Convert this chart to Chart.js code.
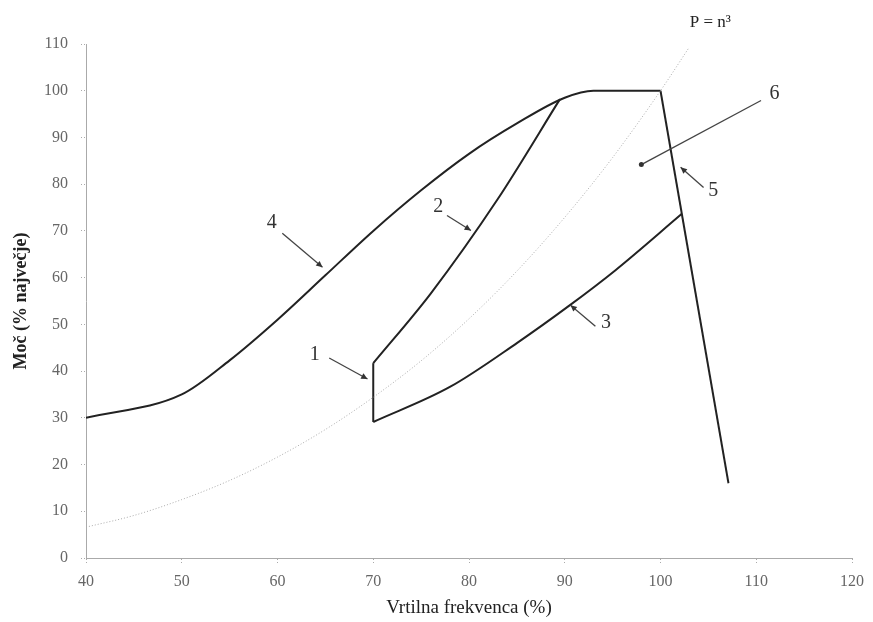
<!DOCTYPE html>
<html>
<head>
<meta charset="utf-8">
<script src="https://cdn.jsdelivr.net/npm/chart.js@4"></script>
<style>
  html, body { margin: 0; padding: 0; background: #fff; }
  #wrap { width: 873px; height: 622px; }
</style>
</head>
<body>
<div id="wrap"><canvas id="chart"></canvas></div>
<script>
// curve 4 - envelope up to the plateau
const envX = [40, 50, 55, 60, 65, 70, 75, 80, 85, 90, 93, 100];
const envY = [30, 35, 42.3, 51, 60.5, 70, 78.7, 86.5, 93, 98.5, 100, 100];
// curve 5 - drop line
const dropX = [100, 107.1];
const dropY = [100, 16];
// curve 1 - vertical step at 70 %
const stepX = [70, 70];
const stepY = [29.1, 41.7];
// curve 2
const c2X = [70, 76, 82.9, 89.5];
const c2Y = [41.7, 56.6, 76.5, 98.2];
// curve 3
const c3X = [70, 78, 85, 90.4, 95.3, 102.2];
const c3Y = [29.1, 36.6, 46, 53.9, 61.6, 73.6];
// P = n^3 reference curve
const cubeX = [40, 45, 50, 55, 60, 65, 70, 75, 80, 85, 90, 95, 100, 103];
const cubeY = [6.6, 9.1, 12.5, 16.6, 21.6, 27.5, 34.4, 42.2, 51.2, 61.4, 72.9, 85.7, 100, 109.3];

// numbered callouts (data units)
const calloutText = ['1', '2', '3', '4', '5', '6'];
const calloutX = [63.9, 76.8, 94.3, 59.4, 105.5, 111.9];
const calloutY = [43.4, 75.1, 50.3, 71.8, 78.7, 99.4];
const arrowFromX = [65.4, 77.7, 93.2, 60.5, 104.5, 110.5];
const arrowFromY = [42.8, 73.3, 49.6, 69.5, 79.3, 97.9];
const arrowToX = [69.4, 80.2, 90.6, 64.7, 102.1, 98];
const arrowToY = [38.3, 70.1, 54.1, 62.2, 83.6, 84.2];
const arrowDot = [false, false, false, false, false, true];
const formulaX = 105.2;
const formulaY = 114.6;

function pts(xs, ys) {
    return xs.map((x, i) => ({x: x, y: ys[i]}));
}

function solid(data, smooth) {
    return {
        data: data,
        borderColor: '#222',
        borderWidth: 2,
        pointRadius: 0,
        cubicInterpolationMode: smooth ? 'monotone' : 'default',
        tension: 0,
        showLine: true
    };
}

const calloutPlugin = {
    id: 'callouts',
    afterDraw(chart) {
        const {ctx, scales: {x, y}} = chart;
        ctx.save();
        ctx.strokeStyle = '#444';
        ctx.fillStyle = '#333';
        ctx.lineWidth = 1.3;
        for (let i = 0; i < calloutText.length; i++) {
            const x1 = x.getPixelForValue(arrowFromX[i]);
            const y1 = y.getPixelForValue(arrowFromY[i]);
            const x2 = x.getPixelForValue(arrowToX[i]);
            const y2 = y.getPixelForValue(arrowToY[i]);
            ctx.beginPath();
            ctx.moveTo(x1, y1);
            ctx.lineTo(x2, y2);
            ctx.stroke();
            if (arrowDot[i]) {
                ctx.beginPath();
                ctx.arc(x2, y2, 2.5, 0, Math.PI * 2);
                ctx.fill();
            } else {
                const a = Math.atan2(y2 - y1, x2 - x1);
                ctx.beginPath();
                ctx.moveTo(x2, y2);
                ctx.lineTo(x2 - 7 * Math.cos(a - 0.45), y2 - 7 * Math.sin(a - 0.45));
                ctx.lineTo(x2 - 7 * Math.cos(a + 0.45), y2 - 7 * Math.sin(a + 0.45));
                ctx.closePath();
                ctx.fill();
            }
            ctx.font = '20px "Liberation Serif"';
            ctx.textAlign = 'center';
            ctx.textBaseline = 'middle';
            ctx.fillText(calloutText[i], x.getPixelForValue(calloutX[i]), y.getPixelForValue(calloutY[i]));
        }
        ctx.font = '17px "Liberation Serif"';
        ctx.fillStyle = '#222';
        ctx.textAlign = 'center';
        ctx.textBaseline = 'middle';
        ctx.fillText('P = n³', x.getPixelForValue(formulaX), y.getPixelForValue(formulaY));
        ctx.restore();
    }
};

const tickFont = {family: '"Liberation Serif"', size: 16};

new Chart(document.getElementById('chart'), {
    type: 'scatter',
    data: {
        datasets: [
            {
                data: pts(cubeX, cubeY),
                borderColor: '#aaa',
                borderWidth: 1,
                borderDash: [1, 2],
                pointRadius: 0,
                cubicInterpolationMode: 'monotone',
                showLine: true
            },
            solid(pts(envX, envY), true),
            solid(pts(dropX, dropY), false),
            solid(pts(stepX, stepY), false),
            solid(pts(c2X, c2Y), true),
            solid(pts(c3X, c3Y), true)
        ]
    },
    options: {
        responsive: true,
        maintainAspectRatio: false,
        animation: false,
        layout: {
            padding: {top: 44, right: 17, left: 0, bottom: 0}
        },
        plugins: {
            legend: {display: false},
            tooltip: {enabled: false}
        },
        scales: {
            x: {
                type: 'linear',
                min: 40,
                max: 120,
                ticks: {stepSize: 10, font: tickFont, color: '#666', padding: 9},
                grid: {
                    drawOnChartArea: false,
                    tickLength: 5,
                    tickColor: '#aaa',
                    tickBorderDash: [1, 2]
                },
                border: {color: '#aaa', dash: [1, 2]},
                title: {
                    display: true,
                    text: 'Vrtilna frekvenca (%)',
                    font: {family: '"Liberation Serif"', size: 19},
                    color: '#222',
                    padding: {top: 0, bottom: 3}
                },
                afterFit(scale) { scale.height = 64; }
            },
            y: {
                min: 0,
                max: 110,
                ticks: {stepSize: 10, font: tickFont, color: '#666', padding: 13},
                grid: {
                    drawOnChartArea: false,
                    tickLength: 5,
                    tickColor: '#aaa',
                    tickBorderDash: [1, 2]
                },
                border: {color: '#aaa', dash: [1, 2]},
                title: {
                    display: true,
                    text: 'Moč (% največje)',
                    font: {family: '"Liberation Serif"', size: 18, weight: 'bold'},
                    color: '#222',
                    padding: {top: 11, bottom: 0}
                },
                afterFit(scale) { scale.width = 86; }
            }
        }
    },
    plugins: [calloutPlugin]
});
</script>
</body>
</html>
